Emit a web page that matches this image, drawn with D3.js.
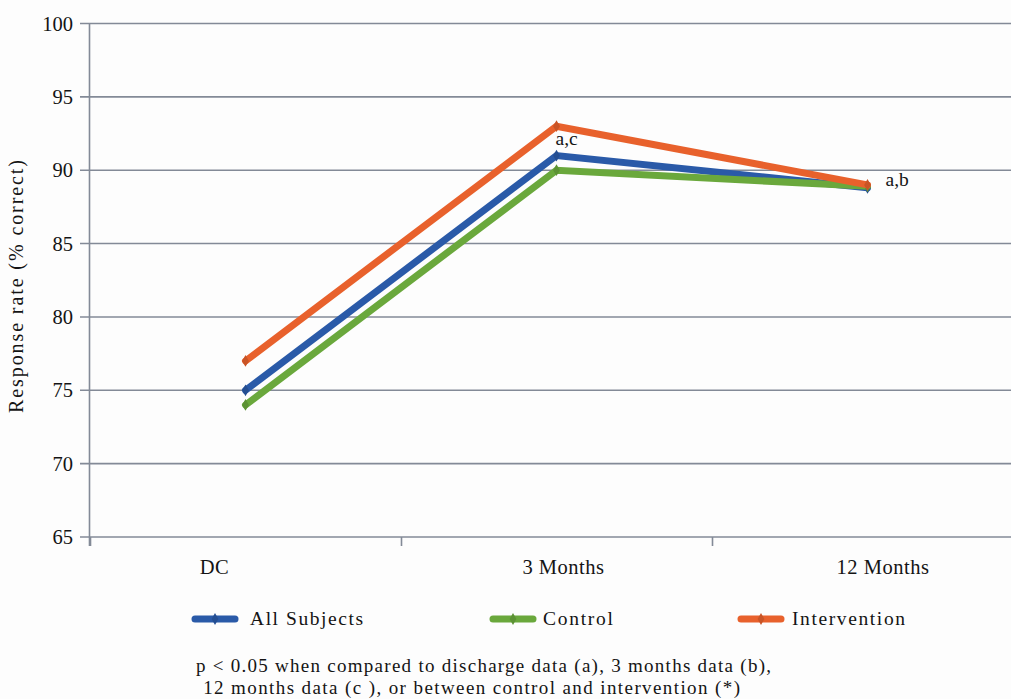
<!DOCTYPE html>
<html>
<head>
<meta charset="utf-8">
<script src="https://cdn.jsdelivr.net/npm/d3@7"></script>
<style>
  html, body { margin: 0; padding: 0; background: #fdfdfd; }
  svg { display: block; }
</style>
</head>
<body>
<script>
// ---- data ----
const categories = ["DC", "3 Months", "12 Months"];
const allSubjects = [75, 91, 88.8];
const control = [74, 90, 88.9];
const intervention = [77, 93, 89];
const seriesNames = ["All Subjects", "Control", "Intervention"];
const yTicks = [65, 70, 75, 80, 85, 90, 95, 100];
const annotations = [
  { cat: "3 Months", text: "a,c" },
  { cat: "12 Months", text: "a,b" }
];
const footnoteLines = [
  "p < 0.05 when compared to discharge data (a), 3 months data (b),",
  " 12 months data (c ), or between control and intervention (*)"
];

// ---- layout / style ----
const W = 1011, H = 699;
const FONT = "'Liberation Serif', 'Times New Roman', serif";
const TXT = "#141414";
const colors = ["#2a5aa8", "#6aa83c", "#e8612c"];
const seriesData = [allSubjects, control, intervention];
const xLabelDx = [-31, 7, 15.5];

const svg = d3.select("body").append("svg").attr("width", W).attr("height", H)
  .attr("font-family", FONT);
svg.append("rect").attr("width", W).attr("height", H).attr("fill", "#fdfdfd");

const x = d3.scaleBand().domain(categories).range([90, 1023]).paddingInner(0).paddingOuter(0);
const y = d3.scaleLinear().domain([65, 100]).range([537, 23.5]);
const cx = c => x(c) + x.bandwidth() / 2;

// gridlines
svg.append("g").selectAll("line").data(yTicks).join("line")
  .attr("x1", 80).attr("x2", W)
  .attr("y1", d => y(d)).attr("y2", d => y(d))
  .attr("stroke", "#838a97").attr("stroke-width", 1.6);

// y axis line
svg.append("line").attr("x1", 89.5).attr("x2", 89.5).attr("y1", y(100)).attr("y2", 546)
  .attr("stroke", "#838a97").attr("stroke-width", 1.6);

// y tick labels
svg.append("g").selectAll("text").data(yTicks).join("text")
  .attr("x", 73).attr("y", d => y(d)).attr("dy", "0.35em")
  .attr("text-anchor", "end").attr("font-size", 20.5).attr("fill", TXT)
  .attr("font-family", FONT)
  .text(d => d);

// x ticks (band boundaries)
const bounds = categories.map(c => x(c));
svg.append("g").selectAll("line").data(bounds).join("line")
  .attr("x1", d => d + 0.5).attr("x2", d => d + 0.5)
  .attr("y1", y(65)).attr("y2", 546)
  .attr("stroke", "#838a97").attr("stroke-width", 1.6);

// x labels
svg.append("g").selectAll("text").data(categories).join("text")
  .attr("x", (d, i) => cx(d) + xLabelDx[i]).attr("y", 574)
  .attr("text-anchor", "middle").attr("font-size", 20.5).attr("fill", TXT)
  .attr("font-family", FONT)
  .attr("letter-spacing", "0.5px")
  .text(d => d);

// y label
svg.append("text")
  .attr("transform", "translate(23,286.5) rotate(-90)")
  .attr("text-anchor", "middle").attr("font-size", 20).attr("fill", TXT)
  .attr("font-family", FONT)
  .attr("textLength", 253).attr("lengthAdjust", "spacing")
  .text("Response rate (% correct)");

// lines
const line = d3.line().x((d, i) => cx(categories[i])).y(d => y(d));
seriesData.forEach((s, k) => {
  svg.append("path").datum(s)
    .attr("d", line)
    .attr("fill", "none")
    .attr("stroke", colors[k])
    .attr("stroke-width", 7)
    .attr("stroke-linejoin", "miter")
    .attr("stroke-linecap", "round");
  svg.append("g").selectAll("path").data(s).join("path")
    .attr("d", d3.symbol(d3.symbolDiamond, 40))
    .attr("transform", (d, i) => `translate(${cx(categories[i])},${y(d)})`)
    .attr("fill", d3.color(colors[k]).darker(0.4));
});

// annotations
svg.append("text").attr("x", cx("3 Months") - 1).attr("y", 145)
  .attr("font-size", 19.5).attr("fill", TXT).attr("font-family", FONT).text(annotations[0].text);
svg.append("text").attr("x", cx("12 Months") + 18).attr("y", 186)
  .attr("font-size", 19.5).attr("fill", TXT).attr("font-family", FONT).text(annotations[1].text);

// legend
const legendLayout = [
  { lx: 195, tx: 250, tw: 113 },
  { lx: 493, tx: 543, tw: 70 },
  { lx: 741, tx: 792, tw: 113 }
];
const lg = svg.append("g");
seriesNames.forEach((name, k) => {
  const L = legendLayout[k];
  lg.append("line").attr("x1", L.lx).attr("x2", L.lx + 40)
    .attr("y1", 619).attr("y2", 619)
    .attr("stroke", colors[k]).attr("stroke-width", 7).attr("stroke-linecap", "round");
  lg.append("path").attr("d", d3.symbol(d3.symbolDiamond, 40))
    .attr("transform", `translate(${L.lx + 20},619)`)
    .attr("fill", d3.color(colors[k]).darker(0.4));
  lg.append("text").attr("x", L.tx).attr("y", 625)
    .attr("font-size", 19.5).attr("fill", TXT).attr("font-family", FONT)
    .attr("textLength", L.tw).attr("lengthAdjust", "spacing")
    .text(name);
});

// footnote
const fnLayout = [{ x: 196, y: 672, w: 575 }, { x: 197, y: 694, w: 543 }];
footnoteLines.forEach((t, i) => {
  svg.append("text").attr("x", fnLayout[i].x).attr("y", fnLayout[i].y)
    .attr("font-size", 19).attr("fill", TXT).attr("font-family", FONT)
    .attr("textLength", fnLayout[i].w).attr("lengthAdjust", "spacing")
    .attr("xml:space", "preserve")
    .text(t);
});
</script>
</body>
</html>
